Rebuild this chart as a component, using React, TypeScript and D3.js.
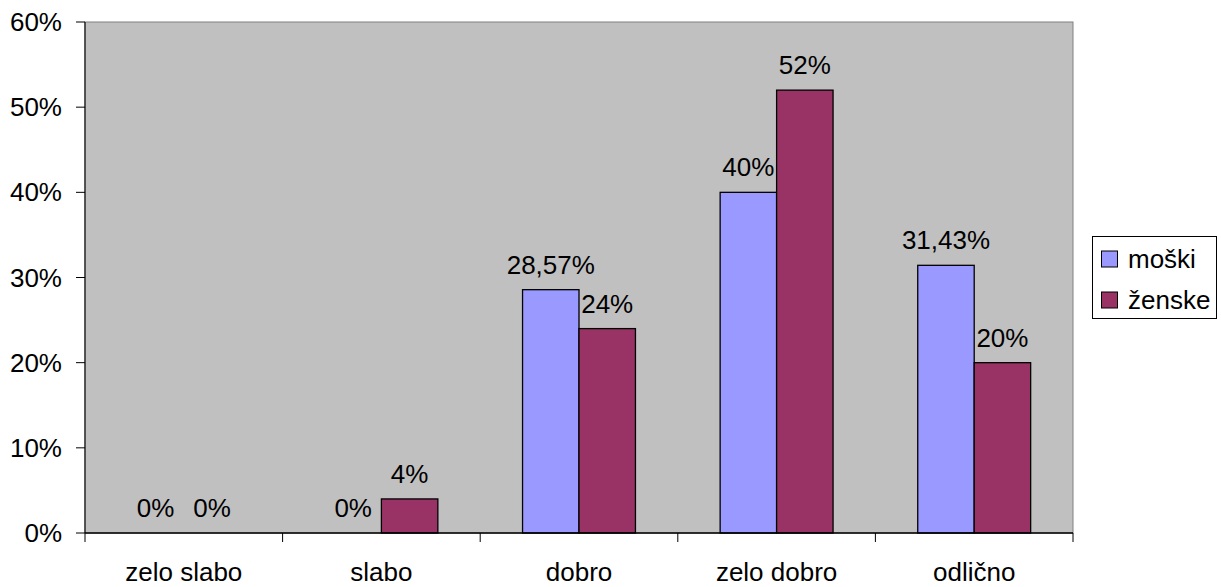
import React, { useEffect, useRef } from 'react';
import * as d3 from 'd3';

const categories = ['zelo slabo', 'slabo', 'dobro', 'zelo dobro', 'odlično'];
const seriesNames = ['moški', 'ženske'];
const moski = [0, 0, 28.57, 40, 31.43];
const zenske = [0, 4, 24, 52, 20];
const valueLabels = [
  ['0%', '0%', '28,57%', '40%', '31,43%'],
  ['0%', '4%', '24%', '52%', '20%'],
];
const yTicks = [0, 10, 20, 30, 40, 50, 60];
const colors = ['#9999FF', '#993366'];

const App = () => {
  const svgRef = useRef<SVGSVGElement>(null);

  useEffect(() => {
    const svg = d3.select(svgRef.current);
    svg.selectAll('*').remove();

    const left = 85, right = 1073, top = 22, bottom = 533;
    const font = '"Liberation Sans", Arial, sans-serif';
    const fs = 26;

    const x0 = d3.scaleBand().domain(categories).range([left, right]).paddingInner(0).paddingOuter(0);
    // two bars per category, with 0.75 bar width empty on each side
    const x1 = d3.scaleBand().domain(seriesNames).range([0, x0.bandwidth()]).paddingOuter(0.75).paddingInner(0);
    const y = d3.scaleLinear().domain([0, 60]).range([bottom, top]);

    // plot background
    svg.append('rect')
      .attr('x', left).attr('y', top)
      .attr('width', right - left).attr('height', bottom - top)
      .attr('fill', '#C0C0C0')
      .attr('stroke', '#808080').attr('stroke-width', 1);

    // y axis
    svg.append('line')
      .attr('x1', left).attr('x2', left).attr('y1', top).attr('y2', bottom)
      .attr('stroke', '#333').attr('stroke-width', 1.5);
    const yt = svg.append('g');
    yTicks.forEach(t => {
      yt.append('line')
        .attr('x1', left - 9).attr('x2', left).attr('y1', y(t)).attr('y2', y(t))
        .attr('stroke', '#000');
      yt.append('text')
        .attr('x', 62).attr('y', y(t)).attr('dy', '0.35em')
        .attr('text-anchor', 'end')
        .style('font-family', font).style('font-size', `${fs}px`)
        .text(`${t}%`);
    });

    // bars
    const series = [moski, zenske];
    series.forEach((vals, si) => {
      svg.append('g').selectAll('rect')
        .data(vals)
        .join('rect')
        .attr('x', (d, i) => (x0(categories[i]) as number) + (x1(seriesNames[si]) as number))
        .attr('y', d => y(d))
        .attr('width', x1.bandwidth())
        .attr('height', d => bottom - y(d))
        .attr('fill', colors[si])
        .attr('stroke', d => d > 0 ? '#000' : 'none')
        .attr('stroke-width', 1.3);

      svg.append('g').selectAll('text')
        .data(vals)
        .join('text')
        .attr('x', (d, i) => (x0(categories[i]) as number) + (x1(seriesNames[si]) as number) + x1.bandwidth() / 2)
        .attr('y', d => y(d) - 16)
        .attr('text-anchor', 'middle')
        .style('font-family', font).style('font-size', `${fs}px`)
        .text((d, i) => valueLabels[si][i]);
    });

    // x axis
    svg.append('line')
      .attr('x1', left).attr('x2', right).attr('y1', bottom).attr('y2', bottom)
      .attr('stroke', '#000').attr('stroke-width', 1.5);
    const xt = svg.append('g');
    d3.range(categories.length + 1).forEach(i => {
      const xv = left + i * x0.step();
      xt.append('line')
        .attr('x1', xv).attr('x2', xv).attr('y1', bottom).attr('y2', bottom + 9)
        .attr('stroke', '#000');
    });
    categories.forEach(c => {
      xt.append('text')
        .attr('x', (x0(c) as number) + x0.bandwidth() / 2).attr('y', 581)
        .attr('text-anchor', 'middle')
        .style('font-family', font).style('font-size', `${fs}px`)
        .text(c);
    });

    // legend
    const lg = svg.append('g');
    lg.append('rect')
      .attr('x', 1092.5).attr('y', 236.5).attr('width', 124).attr('height', 82)
      .attr('fill', '#fff').attr('stroke', '#000');
    seriesNames.forEach((n, i) => {
      const cy = 259 + i * 41;
      lg.append('rect')
        .attr('x', 1101.5).attr('y', cy - 8).attr('width', 16).attr('height', 16)
        .attr('fill', colors[i]).attr('stroke', '#000');
      lg.append('text')
        .attr('x', 1128).attr('y', cy).attr('dy', '0.35em')
        .style('font-family', font).style('font-size', `${fs}px`)
        .text(n);
    });
  }, []);

  return (
    <svg ref={svgRef} width={1221} height={587}
      style={{ position: 'absolute', left: 0, top: 0, background: '#fff' }} />
  );
};

export default App;
